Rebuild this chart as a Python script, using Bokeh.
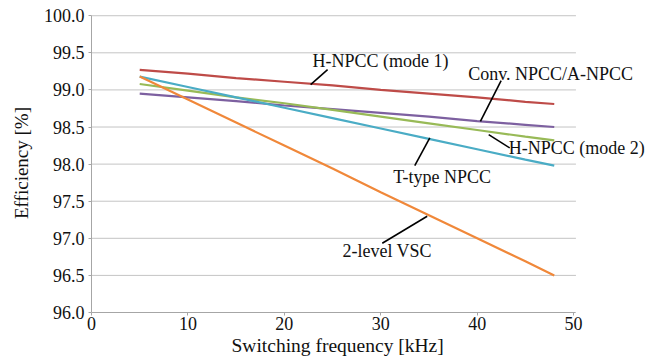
from bokeh.plotting import figure
from bokeh.models import Range1d, FixedTicker, NumeralTickFormatter, Label, Title
from bokeh.embed import file_html
from bokeh.resources import INLINE

# ---- data ----
freq_khz = [5, 10, 15, 20, 25, 30, 35, 40, 45, 48]
eff_2level_vsc = [99.18, 98.87, 98.56, 98.25, 97.94, 97.62, 97.31, 97.00, 96.69, 96.50]
eff_t_type_npcc = [99.18, 99.04, 98.90, 98.76, 98.62, 98.48, 98.34, 98.20, 98.06, 97.98]
eff_hnpcc_mode2 = [99.08, 98.99, 98.90, 98.82, 98.73, 98.64, 98.55, 98.46, 98.37, 98.32]
eff_conv_npcc = [98.95, 98.90, 98.85, 98.79, 98.74, 98.69, 98.64, 98.58, 98.53, 98.50]
eff_hnpcc_mode1 = [99.27, 99.22, 99.16, 99.11, 99.06, 99.00, 98.95, 98.90, 98.84, 98.81]

x_ticks = [0, 10, 20, 30, 40, 50]
y_ticks = [96.0, 96.5, 97.0, 97.5, 98.0, 98.5, 99.0, 99.5, 100.0]

series = [
    ("Conv. NPCC/A-NPCC", eff_conv_npcc, "#7D60A0"),
    ("H-NPCC (mode 2)", eff_hnpcc_mode2, "#98BA57"),
    ("T-type NPCC", eff_t_type_npcc, "#4AACC5"),
    ("H-NPCC (mode 1)", eff_hnpcc_mode1, "#BE4B48"),
    ("2-level VSC", eff_2level_vsc, "#F0883A"),
]

# ---- callout annotations: (text, text_x, text_y, leader x0, y0, x1, y1) ----
callouts = [
    ("H-NPCC (mode 1)", 29.97, 99.394, 24.49, 99.273, 22.73, 99.071),
    ("Conv. NPCC/A-NPCC", 47.63, 99.215, 42.49, 99.125, 40.34, 98.576),
    ("H-NPCC (mode 2)", 50.34, 98.218, 41.20, 98.397, 43.38, 98.218),
    ("T-type NPCC", 36.37, 97.830, 35.09, 98.353, 33.53, 97.980),
    ("2-level VSC", 30.67, 96.826, 34.82, 97.297, 30.16, 96.933),
]

FONT = "Liberation Serif"
TEXT_COLOR = "#111111"
X_MAX_VIEW = 59.85  # frame extends right of the axis so callout text is not clipped
Y_MAX_VIEW = 100.03

p = figure(width=670, height=358, output_backend="svg", toolbar_location=None,
           x_range=Range1d(0, X_MAX_VIEW), y_range=Range1d(96.0, Y_MAX_VIEW),
           min_border_left=91, min_border_right=2, min_border_top=13, min_border_bottom=46)
p.outline_line_color = None
p.background_fill_color = "white"
p.border_fill_color = "white"

# horizontal grid lines limited to the axis extent (0..50)
p.xgrid.visible = False
p.ygrid.visible = False
p.segment(x0=[x_ticks[0]] * len(y_ticks), x1=[x_ticks[-1] + 0.25] * len(y_ticks),
          y0=y_ticks, y1=y_ticks, line_color="#C4C4C4", line_width=1)

for name, vals, color in series:
    p.line(freq_khz, vals, line_color=color, line_width=2.2)

for text, tx, ty, x0, y0, x1, y1 in callouts:
    p.segment(x0=[x0], y0=[y0], x1=[x1], y1=[y1], line_color="black", line_width=1.6)
    p.add_layout(Label(x=tx, y=ty, text=text, text_align="center", text_baseline="middle",
                       text_font=FONT, text_font_size="18px", text_color=TEXT_COLOR))

p.xaxis.ticker = FixedTicker(ticks=x_ticks)
p.yaxis.ticker = FixedTicker(ticks=y_ticks)
p.yaxis.formatter = NumeralTickFormatter(format="0.0")
p.xaxis.bounds = (x_ticks[0], x_ticks[-1] + 0.25)
p.yaxis.bounds = (y_ticks[0], y_ticks[-1])

for ax in (p.xaxis[0], p.yaxis[0]):
    ax.axis_line_color = "#A6A6A6"
    ax.axis_line_width = 1
    ax.major_tick_line_color = "#A6A6A6"
    ax.major_tick_out = 3
    ax.major_tick_in = 0
    ax.minor_tick_line_color = None
    ax.major_label_text_font = FONT
    ax.major_label_text_font_size = "18px"
    ax.major_label_text_color = TEXT_COLOR
    ax.axis_label_text_font = FONT
    ax.axis_label_text_font_size = "19px"
    ax.axis_label_text_font_style = "normal"
    ax.axis_label_text_color = TEXT_COLOR

p.yaxis.axis_label = "Efficiency [%]"
p.xaxis.major_label_standoff = 1
p.yaxis.major_label_standoff = 4
p.yaxis.axis_label_standoff = 9

# x-axis title centred under the 0..50 axis (frame is wider than the axis)
p.add_layout(Title(text="Switching frequency [kHz]", align="left", offset=140,
                   standoff=0, text_font=FONT, text_font_size="19.5px",
                   text_font_style="normal", text_color=TEXT_COLOR), "below")

open("out.html", "w").write(file_html(p, INLINE))
